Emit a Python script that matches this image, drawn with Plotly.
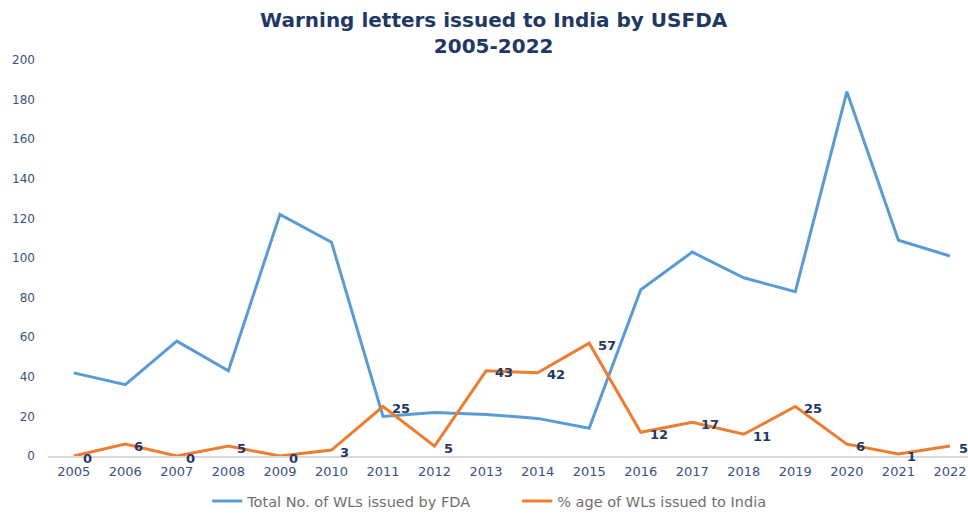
import plotly.graph_objects as go

years = [str(y) for y in range(2005, 2023)]
total_wls = [42, 36, 58, 43, 122, 108, 20, 22, 21, 19, 14, 84, 103, 90, 83, 184, 109, 101]
pct_india = [0, 6, 0, 5, 0, 3, 25, 5, 43, 42, 57, 12, 17, 11, 25, 6, 1, 5]
y_ticks = list(range(0, 201, 20))

NAVY = "#1F3864"
TICK = "#404F7C"
FONT = "DejaVu Sans"

fig = go.Figure()
fig.add_trace(go.Scatter(
    x=years, y=total_wls, mode="lines", name="Total No. of WLs issued by FDA",
    line=dict(color="#5B9BD5", width=3),
))
fig.add_trace(go.Scatter(
    x=years, y=pct_india, mode="lines", name="% age of WLs issued to India",
    line=dict(color="#ED7D31", width=3),
))

for i, v in enumerate(pct_india):
    fig.add_annotation(
        x=i, y=v, xref="x", yref="y", text=f"<b>{v}</b>", showarrow=False,
        xanchor="left", yanchor="middle", xshift=7, yshift=-2,
        font=dict(family=FONT, size=13, color=NAVY),
    )

fig.update_layout(
    width=968, height=514,
    margin=dict(l=48, r=0, t=60, b=58, autoexpand=False),
    paper_bgcolor="white", plot_bgcolor="white",
    font=dict(family=FONT, color=TICK),
    title=dict(
        text="<b>Warning letters issued to India by USFDA<br>2005-2022</b>",
        x=0.51, xanchor="center", y=0.948, yanchor="top",
        font=dict(family=FONT, size=20, color=NAVY),
    ),
    showlegend=True,
    legend=dict(
        orientation="h", x=0.51, xanchor="center", y=-0.114, yanchor="middle",
        font=dict(family=FONT, size=14.5, color="#6F6F6F"),
        itemwidth=30, entrywidth=265, entrywidthmode="pixels",
    ),
    xaxis=dict(
        type="category", range=[-0.5, 17.35], automargin=False,
        showgrid=False, showline=True, linecolor="#D9D9D9", linewidth=1.5,
        tickfont=dict(family=FONT, size=13, color=TICK),
        ticks="", ticklabelstandoff=3,
    ),
    yaxis=dict(
        range=[0, 200], tickvals=y_ticks, showgrid=False, zeroline=False,
        automargin=False,
        tickfont=dict(family=FONT, size=12, color=TICK),
        ticks="", ticklabelstandoff=12,
    ),
)

fig.write_html("out.html", config={"displayModeBar": False},
               post_script="document.body.style.margin='0';")
